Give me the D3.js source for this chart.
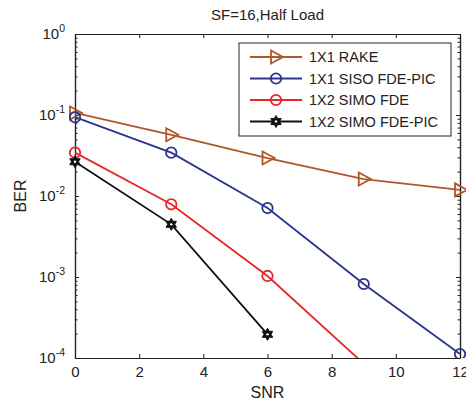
<!DOCTYPE html>
<html>
<head>
<meta charset="utf-8">
<script src="https://cdn.jsdelivr.net/npm/d3@7"></script>
<style>
  body { margin: 0; background: #fff; }
  svg text { font-family: "Liberation Sans", Arial, Helvetica, sans-serif; fill: #222; }
</style>
</head>
<body>
<svg id="chart"></svg>
<script>
// Data
const snr = [0, 3, 6, 9, 12];
const rake = [0.106, 0.057, 0.0294, 0.0162, 0.0119];
const sisoPic = [0.094, 0.0343, 0.0071, 0.00082, 0.000112];
const simoFde = [0.0343, 0.0079, 0.00103, 0.000085];
const simoPic = [0.0265, 0.00447, 0.000196];
const xTicks = [0, 2, 4, 6, 8, 10, 12];
const yTicks = [1, 0.1, 0.01, 0.001, 0.0001];

const series = [
  { name: "1X1 RAKE", values: rake, color: "#b0562a", marker: "tri" },
  { name: "1X1 SISO FDE-PIC", values: sisoPic, color: "#2a3592", marker: "circle" },
  { name: "1X2 SIMO FDE", values: simoFde, color: "#e8262b", marker: "circle" },
  { name: "1X2 SIMO FDE-PIC", values: simoPic, color: "#111", marker: "hex" }
];

const W = 466, H = 402;
const margin = { top: 34, right: 6, bottom: 44, left: 75 };
const width = W - margin.left - margin.right;
const height = H - margin.top - margin.bottom;

const svg = d3.select("#chart").attr("width", W).attr("height", H);

const x = d3.scaleLinear().domain([0, 12]).range([0, width]);
const y = d3.scaleLog().domain([1e-4, 1]).range([height, 0]);

svg.append("defs").append("clipPath").attr("id", "clip")
  .append("rect").attr("x", -8).attr("y", -8).attr("width", width + 16).attr("height", height + 8);

const g = svg.append("g").attr("transform", `translate(${margin.left},${margin.top})`);

// minor ticks for log axis
const minor = [];
for (let e = -4; e < 0; e++) for (let k = 2; k <= 9; k++) minor.push(k * Math.pow(10, e));

// bottom and top axes, inward ticks
const xb = g.append("g").attr("transform", `translate(0,${height})`)
  .call(d3.axisBottom(x).tickValues(xTicks).tickSizeInner(-4).tickSizeOuter(0).tickPadding(8));
g.append("g")
  .call(d3.axisTop(x).tickValues(xTicks).tickSizeInner(-4).tickSizeOuter(0).tickFormat(""));
g.append("g")
  .call(d3.axisLeft(y).tickValues(yTicks).tickSizeInner(-4).tickSizeOuter(0).tickFormat(""));
g.append("g").attr("transform", `translate(${width},0)`)
  .call(d3.axisRight(y).tickValues(yTicks).tickSizeInner(-4).tickSizeOuter(0).tickFormat(""));
g.append("g").call(d3.axisLeft(y).tickValues(minor).tickSizeInner(-2.5).tickSizeOuter(0).tickFormat(""));
g.append("g").attr("transform", `translate(${width},0)`)
  .call(d3.axisRight(y).tickValues(minor).tickSizeInner(-2.5).tickSizeOuter(0).tickFormat(""));

g.selectAll(".domain").attr("stroke", "#222").attr("stroke-width", 1.2);
g.selectAll(".tick line").attr("stroke", "#222");
xb.selectAll("text").attr("font-size", 15).attr("fill", "#222");

// y tick labels as 10^n
yTicks.forEach(v => {
  const t = g.append("text")
    .attr("x", -10).attr("y", y(v) + 5)
    .attr("text-anchor", "end").attr("font-size", 15);
  t.append("tspan").text("10");
  t.append("tspan").attr("dy", -7).attr("font-size", 10.5).text(Math.round(Math.log10(v)));
});

// lines and markers
const line = d3.line().x(d => x(d.x)).y(d => y(d.y));
const plot = g.append("g").attr("clip-path", "url(#clip)");

function hexPath(r) {
  const pts = [];
  for (let i = 0; i < 12; i++) {
    const a = Math.PI / 6 * i - Math.PI / 2;
    const rr = i % 2 === 0 ? r : r * 0.58;
    pts.push([rr * Math.cos(a), rr * Math.sin(a)]);
  }
  return "M" + pts.map(p => p.join(",")).join("L") + "Z";
}

function drawMarker(sel, type, color) {
  if (type === "tri") {
    sel.append("path").attr("d", "M-5,-6.5L7,0L-5,6.5Z")
      .attr("fill", "none").attr("stroke", color).attr("stroke-width", 1.8);
  } else if (type === "circle") {
    sel.append("circle").attr("r", 5.2)
      .attr("fill", "none").attr("stroke", color).attr("stroke-width", 1.8);
  } else {
    sel.append("path").attr("d", hexPath(6))
      .attr("fill", color).attr("stroke", color).attr("stroke-width", 1);
    sel.append("circle").attr("r", 1.2).attr("fill", "#fff");
  }
}

series.forEach(s => {
  const pts = s.values.map((v, i) => ({ x: snr[i], y: v }));
  plot.append("path").datum(pts).attr("d", line)
    .attr("fill", "none").attr("stroke", s.color).attr("stroke-width", 1.8);
  pts.filter(p => p.y >= 1e-4).forEach(p => {
    drawMarker(plot.append("g").attr("transform", `translate(${x(p.x)},${y(p.y)})`), s.marker, s.color);
  });
});

// legend
const lg = svg.append("g").attr("transform", "translate(239,43)");
lg.append("rect").attr("width", 212).attr("height", 93)
  .attr("fill", "#fff").attr("stroke", "#222").attr("stroke-width", 1);
series.forEach((s, i) => {
  const ly = 14 + i * 21.5;
  lg.append("line").attr("x1", 11).attr("x2", 63).attr("y1", ly).attr("y2", ly)
    .attr("stroke", s.color).attr("stroke-width", 1.8);
  drawMarker(lg.append("g").attr("transform", `translate(37,${ly})`), s.marker, s.color);
  lg.append("text").attr("x", 70).attr("y", ly + 5).attr("font-size", 14.5)
    .attr("textLength", 134).attr("lengthAdjust", "spacingAndGlyphs")
    .attr("textLength", null).text(s.name);
});

// title and axis labels
svg.append("text").attr("x", margin.left + width / 2).attr("y", 20)
  .attr("text-anchor", "middle").attr("font-size", 15).text("SF=16,Half Load");
svg.append("text").attr("x", margin.left + width / 2).attr("y", 398)
  .attr("text-anchor", "middle").attr("font-size", 16).text("SNR");
svg.append("text").attr("transform", `translate(26,${margin.top + y(0.01)}) rotate(-90)`)
  .attr("text-anchor", "middle").attr("font-size", 16).text("BER");
</script>
</body>
</html>
